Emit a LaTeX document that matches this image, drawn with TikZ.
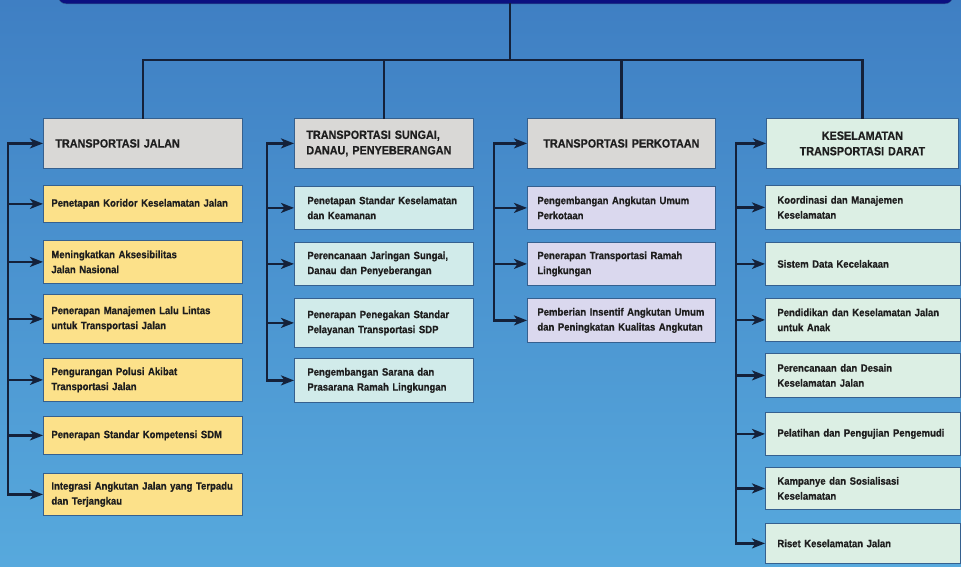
\documentclass[tikz,border=0pt]{standalone}
\usepackage{fontspec}
\setmainfont{Liberation Sans}[FakeStretch=0.9, BoldFeatures={FakeBold=0.6}]
\usetikzlibrary{arrows.meta}
\definecolor{bgtop}{HTML}{3F7FC3}
\definecolor{bgbot}{HTML}{57A9DD}
\definecolor{navy}{HTML}{0C1080}
\definecolor{wire}{HTML}{14213A}
\definecolor{boxline}{HTML}{35608F}
\definecolor{hdrgray}{HTML}{D9D8D6}
\definecolor{mintbox}{HTML}{DCEFE4}
\definecolor{yellowbox}{HTML}{FCE18A}
\definecolor{tealbox}{HTML}{D1EBEA}
\definecolor{lavbox}{HTML}{DAD8EE}
\definecolor{ink}{HTML}{1E1E1E}
\begin{document}
\begin{tikzpicture}[x=1pt, y=-1pt,
    box/.style={draw=boxline, line width=0.8pt, anchor=north west, inner ysep=2pt, text=ink, align=left, font=\bfseries\fontsize{10.6}{15}\selectfont},
    hdr/.style={box, minimum height=50pt, font=\bfseries\fontsize{12}{15.5}\selectfont},
    link/.style={draw=wire, line width=2.2pt, line cap=rect},
    arr/.style={link, -{Stealth[length=13pt, width=10pt, inset=3.5pt]}}]
    \useasboundingbox (0,0) rectangle (961,566);
    \clip (0,0) rectangle (961,566);
    \shade[top color=bgtop, bottom color=bgbot] (0,0) rectangle (961,566);
    % top banner, only its lower edge shows
    \node[draw=boxline, fill=navy, rounded corners=8pt, minimum width=895pt, minimum height=40pt, anchor=south] (top) at (505.5,4) {};
    \coordinate (hub) at (510,60);
    % four headers
    \node[hdr, fill=hdrgray, minimum width=199pt, inner xsep=12pt, text width=175pt] (h1) at (43,118) {TRANSPORTASI JALAN};
    \node[hdr, fill=hdrgray, minimum width=179pt, inner xsep=12pt, text width=155pt] (h2) at (294,118) {TRANSPORTASI SUNGAI,\\DANAU, PENYEBERANGAN};
    \node[hdr, fill=hdrgray, minimum width=188pt, inner xsep=8pt, text width=172pt, align=center] (h3) at (527,118) {TRANSPORTASI PERKOTAAN};
    \node[hdr, fill=mintbox, minimum width=192pt, inner xsep=8pt, text width=176pt, align=center] (h4) at (766,118) {KESELAMATAN\\TRANSPORTASI DARAT};
    \draw[link] (top.south -| hub) -- (hub);
    \draw[link] (h1.north) |- (hub) -| (h4.north);
    \draw[link] (h2.north) |- (hub);
    \draw[link] (h3.north) |- (hub);
    % branch starts
    \coordinate (s1) at ([xshift=-35pt]h1.west);
    \coordinate (s2) at ([xshift=-27pt]h2.west);
    \coordinate (s3) at ([xshift=-33pt]h3.west);
    \coordinate (s4) at ([xshift=-30pt]h4.west);
    \foreach \i in {1,...,4}
        \draw[arr] (s\i) -- (h\i.west);
    % transportasi jalan
    \foreach \n/\t/\h/\txt in {1/185/37/{Penetapan Koridor Keselamatan Jalan},
            2/240/43/{Meningkatkan Aksesibilitas\\Jalan Nasional},
            3/294/49/{Penerapan Manajemen Lalu Lintas\\untuk Transportasi Jalan},
            4/358/43/{Pengurangan Polusi Akibat\\Transportasi Jalan},
            5/416/38/{Penerapan Standar Kompetensi SDM},
            6/473/42/{Integrasi Angkutan Jalan yang Terpadu\\dan Terjangkau}} {
        \node[box, fill=yellowbox, minimum width=199pt, minimum height=\h pt, inner xsep=8pt, text width=183pt] (a\n) at (43,\t) {\txt};
        \draw[arr] (s1) |- (a\n.west);
    }
    % sungai, danau, penyeberangan
    \foreach \n/\t/\h/\txt in {1/186/43/{Penetapan Standar Keselamatan\\dan Keamanan},
            2/242/43/{Perencanaan Jaringan Sungai,\\Danau dan Penyeberangan},
            3/298/49/{Penerapan Penegakan Standar\\Pelayanan Transportasi SDP},
            4/358/44/{Pengembangan Sarana dan\\Prasarana Ramah Lingkungan}} {
        \node[box, fill=tealbox, minimum width=179pt, minimum height=\h pt, inner xsep=13pt, text width=153pt] (b\n) at (294,\t) {\txt};
        \draw[arr] (s2) |- (b\n.west);
    }
    % perkotaan
    \foreach \n/\t/\h/\txt in {1/186/43/{Pengembangan Angkutan Umum\\Perkotaan},
            2/242/43/{Penerapan Transportasi Ramah\\Lingkungan},
            3/298/44/{Pemberian Insentif Angkutan Umum\\dan Peningkatan Kualitas Angkutan}} {
        \node[box, fill=lavbox, minimum width=188pt, minimum height=\h pt, inner xsep=10pt, text width=168pt] (c\n) at (527,\t) {\txt};
        \draw[arr] (s3) |- (c\n.west);
    }
    % keselamatan
    \foreach \n/\t/\h/\txt in {1/185/44/{Koordinasi dan Manajemen\\Keselamatan},
            2/242/43/{Sistem Data Kecelakaan},
            3/298/43/{Pendidikan dan Keselamatan Jalan\\untuk Anak},
            4/353/44/{Perencanaan dan Desain\\Keselamatan Jalan},
            5/412/43/{Pelatihan dan Pengujian Pengemudi},
            6/467/42/{Kampanye dan Sosialisasi\\Keselamatan},
            7/523/40/{Riset Keselamatan Jalan}} {
        \node[box, fill=mintbox, minimum width=195pt, minimum height=\h pt, inner xsep=12pt, text width=171pt] (d\n) at (765,\t) {\txt};
        \draw[arr] (s4) |- (d\n.west);
    }
\end{tikzpicture}
\end{document}
